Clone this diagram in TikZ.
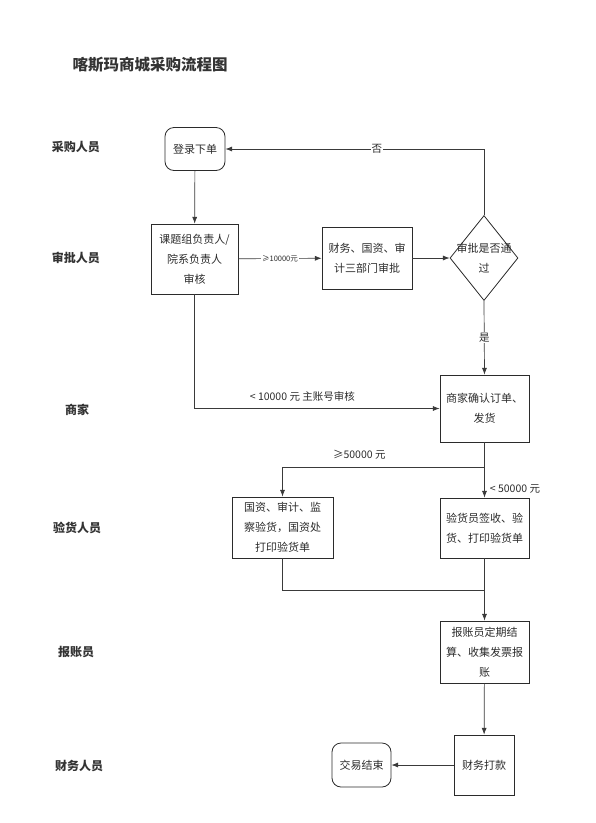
\documentclass[tikz,border=0pt]{standalone}
\usepackage{fontspec}
\setmainfont{Noto Sans CJK SC}
\usepackage{xcolor}
\usetikzlibrary{positioning,arrows.meta,calc,shapes.geometric}
\definecolor{flowink}{HTML}{2B2B2B}
\definecolor{flowline}{HTML}{3A3A3A}
\definecolor{flowlane}{HTML}{333333}

\begin{document}
\begin{tikzpicture}[
  x=1pt, y=-1pt,
  font=\fontsize{11}{20}\selectfont,
  box/.style={draw=flowink, line width=0.8pt, align=center, inner sep=2pt, text=flowink},
  term/.style={box, rounded corners=9pt, minimum width=60pt, minimum height=43pt},
  proc/.style={box, minimum width=89pt, minimum height=63pt},
  gate/.style={box, diamond, aspect=0.8, minimum width=68pt, minimum height=85pt, inner sep=-6pt},
  arr/.style={-{Latex[length=2.4mm,width=1.8mm]}, line width=0.7pt, draw=flowline},
  lane/.style={font=\fontsize{12}{14}\selectfont\bfseries, text=flowlane},
  lbl/.style={font=\fontsize{10.5}{12}\selectfont, text=flowink, inner sep=1pt}
]
\useasboundingbox (0,0) rectangle (596,823);

\node[font=\fontsize{15.5}{18}\selectfont\bfseries, text=flowlane, anchor=west] (title) at (69,65) {喀斯玛商城采购流程图};

% lanes
\node[lane] (l1) at (76,147) {采购人员};
\node[lane] (l2) at (76,258) {审批人员};
\node[lane] (l3) at (77,410) {商家};
\node[lane] (l4) at (77,528) {验货人员};
\node[lane] (l5) at (76,652) {报账员};
\node[lane] (l6) at (79,766) {财务人员};

% steps
\node[term] (order) at (195,149) {登录下单};
\node[proc, minimum width=87pt, minimum height=70pt] (lead) at (194.5,259) {课题组负责人/\\院系负责人\\审核};
\node[proc, minimum width=90pt, minimum height=62pt] (dept) at (367,258) {财务、国资、审\\计三部门审批};
\node[gate] (pass) at (484,258) {审批是否通\\过};
\node[proc, minimum height=67pt] (shop) at (484.5,408.5) {商家确认订单、\\发货};
\node[proc, minimum width=101pt, minimum height=61pt] (joint) at (282.5,527.5) {国资、审计、监\\察验货，国资处\\打印验货单};
\node[proc, minimum height=60pt] (check) at (484.5,528) {验货员签收、验\\货、打印验货单};
\node[proc, minimum height=62pt] (claim) at (484.5,652) {报账员定期结\\算、收集发票报\\账};
\node[proc, minimum width=60pt, minimum height=60pt] (pay) at (484,765) {财务打款};
\node[term, minimum width=59pt, minimum height=44pt] (done) at (361.5,765) {交易结束};

\coordinate (split) at (484.5,467);
\coordinate (merge) at (484.5,590);

% links
\draw[arr] (order) -- (lead);
\draw[arr] (lead) -- node[lbl, fill=white, font=\fontsize{7.5}{9}\selectfont] {≥10000元} (dept);
\draw[arr] (dept) -- (pass);
\draw[arr] (pass.north) |- node[lbl, fill=white, pos=0.707] {否} (order.east);
\draw[arr] (pass.south) -- node[lbl, fill=white, pos=0.5] {是} (shop.north);
\draw[arr] (lead.south) |- node[lbl, above=6pt, pos=0.72] {< 10000 元 主账号审核} (shop.west);
\draw[line width=0.7pt, draw=flowline] (shop.south) -- (split);
\draw[arr] (split) -| node[lbl, above=6pt, pos=0.31] {≥50000 元} (joint.north);
\draw[arr] (split) -- node[lbl, right=4pt, pos=0.7] {< 50000 元} (check.north);
\draw[line width=0.7pt, draw=flowline] (joint.south) |- (merge);
\draw[arr] (check.south) -- (claim.north);
\draw[arr] (claim) -- (pay);
\draw[arr] (pay) -- (done);
\end{tikzpicture}
\end{document}
